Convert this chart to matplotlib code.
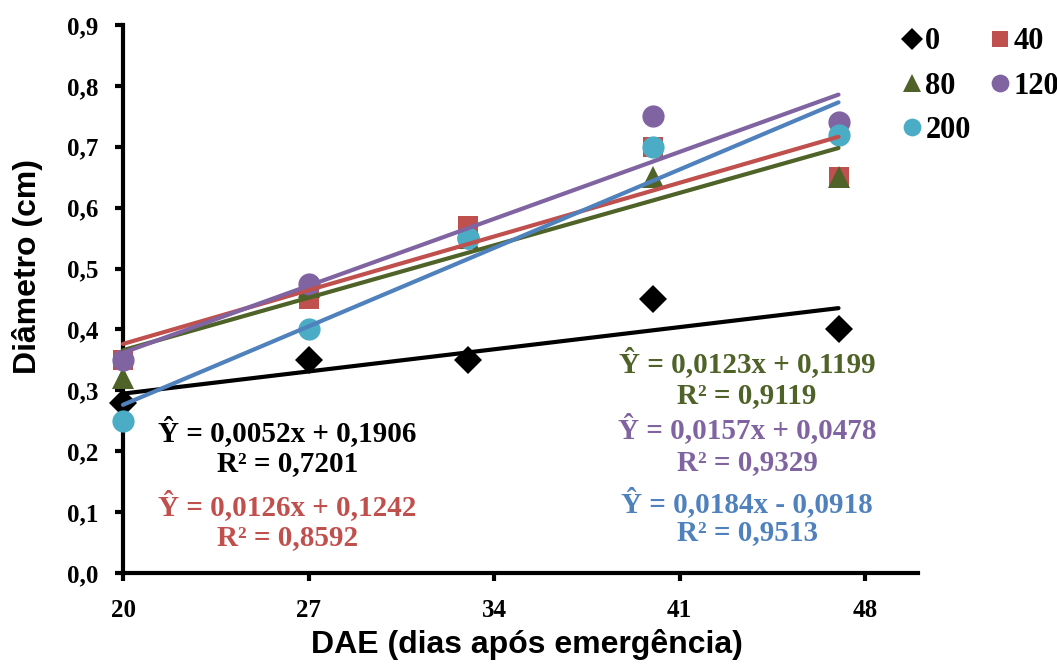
import matplotlib
matplotlib.use("Agg")
import matplotlib.pyplot as plt
import numpy as np

# ---- data ----
dae = [20, 27, 33, 40, 47]
series_labels = ["0", "40", "80", "120", "200"]
y_0 = [0.28, 0.35, 0.35, 0.45, 0.40]
y_40 = [0.35, 0.45, 0.57, 0.70, 0.65]
y_80 = [0.32, 0.47, 0.55, 0.65, 0.65]
y_120 = [0.35, 0.475, 0.55, 0.75, 0.74]
y_200 = [0.25, 0.40, 0.55, 0.70, 0.72]
slopes = [0.0052, 0.0126, 0.0123, 0.0157, 0.0184]
intercepts = [0.1906, 0.1242, 0.1199, 0.0478, -0.0918]
equations = ["Ŷ = 0,0052x + 0,1906", "Ŷ = 0,0126x + 0,1242", "Ŷ = 0,0123x + 0,1199",
             "Ŷ = 0,0157x + 0,0478", "Ŷ = 0,0184x - 0,0918"]
r2_texts = ["R² = 0,7201", "R² = 0,8592", "R² = 0,9119", "R² = 0,9329", "R² = 0,9513"]
x_ticks = [20, 27, 34, 41, 48]
y_ticks = [0.0, 0.1, 0.2, 0.3, 0.4, 0.5, 0.6, 0.7, 0.8, 0.9]
y_ticklabels = ["0,0", "0,1", "0,2", "0,3", "0,4", "0,5", "0,6", "0,7", "0,8", "0,9"]

# ---- styles ----
marker_colors = ["#000000", "#C0504D", "#4F6228", "#8064A2", "#4BACC6"]
line_colors = ["#000000", "#C0504D", "#4F6228", "#8064A2", "#4F81BD"]
markers = ["D", "s", "^", "o", "o"]
msizes = [14, 15, 16, 16, 16]
serif = "Liberation Serif"
sans = "Liberation Sans"

fig = plt.figure(figsize=(10.57, 6.64), dpi=100)
ax = fig.add_axes([123/1057, 1 - 573/664, (918-123)/1057, (573-25)/664])

all_y = [y_0, y_40, y_80, y_120, y_200]
handles = []
for i, ys in enumerate(all_y):
    h, = ax.plot(dae, ys, linestyle="none", marker=markers[i], ms=msizes[i],
                 color=marker_colors[i], markeredgewidth=0, zorder=3 + i * 0.1,
                 label=series_labels[i], clip_on=False)
    handles.append(h)

xfit = np.array([dae[0], dae[-1]])
for i in range(5):
    ax.plot(xfit, slopes[i] * xfit + intercepts[i], color=line_colors[i], lw=3,
            solid_capstyle="round", zorder=5, clip_on=False)

ax.set_xlim(20, 50)
ax.set_ylim(0, 0.9)
ax.set_xticks(x_ticks)
ax.set_xticklabels([str(v) for v in x_ticks], fontfamily=serif, fontweight="bold", fontsize=18)
ax.set_yticks(y_ticks)
ax.set_yticklabels(y_ticklabels, fontfamily=serif, fontweight="bold", fontsize=18)
for s in ["top", "right"]:
    ax.spines[s].set_visible(False)
for s in ["left", "bottom"]:
    ax.spines[s].set_linewidth(3)
ax.tick_params(axis="x", direction="out", length=6, width=3, pad=13)
ax.tick_params(axis="y", direction="out", length=6, width=3, pad=12)

ax.set_xlabel("DAE (dias após emergência)", fontfamily=sans, fontweight="bold", fontsize=23,
              va="center")
ax.set_ylabel("Diâmetro (cm)", fontfamily=sans, fontweight="bold", fontsize=23,
              va="center")
ax.xaxis.set_label_coords(0.508, -0.131)
ax.yaxis.set_label_coords(-0.1195, 0.56)

# annotations
text_pos = [(26.2, 0.2315, 0.179), (26.2, 0.110, 0.0575), (43.55, 0.345, 0.292),
            (43.55, 0.2365, 0.181), (43.55, 0.115, 0.0657)]
for i in range(5):
    tx, ye, yr = text_pos[i]
    ax.text(tx, ye, equations[i], color=line_colors[i], fontfamily=serif, fontweight="bold",
            fontsize=21, ha="center", va="center")
    ax.text(tx, yr, r2_texts[i], color=line_colors[i], fontfamily=serif, fontweight="bold",
            fontsize=21, ha="center", va="center")

order = [0, 2, 4, 1, 3]
leg = fig.legend([handles[k] for k in order], [series_labels[k] for k in order],
                 ncol=2, loc="upper left", bbox_to_anchor=(881/1057, 1 - 6/664),
                 frameon=False, handlelength=0.6, handletextpad=0.15, columnspacing=0.65,
                 labelspacing=0.5, markerscale=0.8, borderpad=0.2,
                 prop={"family": serif, "weight": "bold", "size": 22})

fig.savefig("out.png", dpi=100)
